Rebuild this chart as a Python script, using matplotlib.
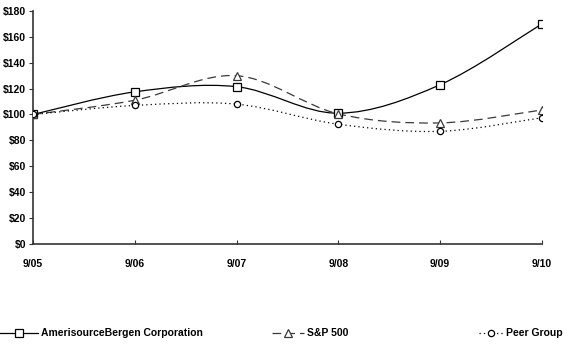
import numpy as np
import matplotlib
matplotlib.use('Agg')
import matplotlib.pyplot as plt
from matplotlib.path import Path
from matplotlib.patches import PathPatch
from matplotlib.lines import Line2D

# data
periods = ['9/05', '9/06', '9/07', '9/08', '9/09', '9/10']
abc = [100, 117.5, 121.5, 101, 123, 170]
sp500 = [100, 111, 130, 100.5, 93.5, 103.5]
peer = [100, 107, 108, 92.5, 87, 97.5]

plt.rcParams['font.family'] = ['Liberation Sans', 'DejaVu Sans']
plt.rcParams['font.weight'] = 'bold'


def smooth_path(xs, ys):
    # Catmull-Rom style smoothing (like Excel smoothed lines) as cubic Beziers
    pts = np.column_stack([xs, ys]).astype(float)
    n = len(pts)
    verts = [pts[0]]
    codes = [Path.MOVETO]
    for i in range(n - 1):
        p0 = pts[i - 1] if i > 0 else pts[i]
        p1 = pts[i]
        p2 = pts[i + 1]
        p3 = pts[i + 2] if i + 2 < n else pts[i + 1]
        c1 = p1 + (p2 - p0) / 6.0
        c2 = p2 - (p3 - p1) / 6.0
        verts += [c1, c2, p2]
        codes += [Path.CURVE4] * 3
    return Path(verts, codes)


fig = plt.figure(figsize=(5.68, 3.54), dpi=100)
ax = fig.add_axes([0.058, 0.311, 0.896, 0.658])

x = np.arange(len(periods))
series = [
    ('AmerisourceBergen Corporation', abc, '#000000', '-', 's', 5.2),
    ('S&P 500', sp500, '#3a3a3a', (0, (7, 4)), '^', 5.5),
    ('Peer Group', peer, '#000000', (0, (1, 2.5)), 'o', 4.5),
]
handles = []
for name, vals, col, ls, mk, ms in series:
    ax.add_patch(PathPatch(smooth_path(x, vals), facecolor='none', edgecolor=col,
                           linestyle=ls, linewidth=0.9, zorder=2))
    ax.plot(x, vals, linestyle='none', marker=mk, markersize=ms, markerfacecolor='white',
            markeredgecolor=col, markeredgewidth=0.9, zorder=3)
    handles.append(Line2D([], [], color=col, linestyle=ls, linewidth=0.9, marker=mk,
                          markersize=ms, markerfacecolor='white', markeredgecolor=col,
                          markeredgewidth=0.9))

ax.set_xlim(0, len(periods) - 1)
ax.set_ylim(0, 180)
ax.set_xticks(x, periods)
ax.set_yticks(np.arange(0, 181, 20), ['$%d' % v for v in range(0, 181, 20)])
ax.tick_params(axis='x', direction='in', length=3, pad=11, labelsize=7.5, color='#333333')
ax.tick_params(axis='y', direction='out', length=3, pad=2, labelsize=7.5, color='#333333')
for s in ['top', 'right']:
    ax.spines[s].set_visible(False)
for s in ['left', 'bottom']:
    ax.spines[s].set_color('#333333')
    ax.spines[s].set_linewidth(1.2)

# legend entries placed separately like the reference
legend_x = [0.0, 0.479, 0.844]
handle_len = [3.6, 3.1, 2.3]
for h, (name, *_), lx, hl in zip(handles, series, legend_x, handle_len):
    fig.legend([h], [name], loc='center left', bbox_to_anchor=(lx, 0.058), frameon=False,
               handlelength=hl, handletextpad=0.3, borderaxespad=0, borderpad=0,
               fontsize=7.5)

fig.savefig('out.png', dpi=100)
